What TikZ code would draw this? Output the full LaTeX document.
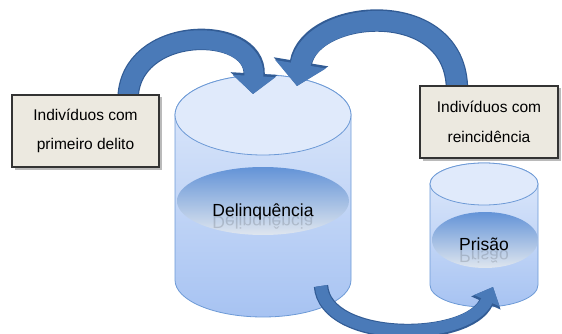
\documentclass[tikz,border=0pt]{standalone}
\usepackage{fontspec}
\setmainfont{Liberation Sans}
\usetikzlibrary{arrows.meta,shadows,shapes.geometric}

\definecolor{arrowblue}{HTML}{4A7AB8}
\definecolor{arrowedge}{HTML}{325C95}
\definecolor{cylline}{HTML}{6D9AD6}
\definecolor{cyltop}{HTML}{E0EAFB}
\definecolor{cylbottom}{HTML}{A7C3F2}
\definecolor{lenstop}{HTML}{6393D7}
\definecolor{lensbottom}{HTML}{DFE6EF}
\definecolor{boxfill}{HTML}{ECE9E0}

% thick bent arrow: shaft, head width, head length, then the four bezier points
\def\blockarrow#1#2#3(#4)(#5)(#6)(#7){%
  \pgfmathsetmacro\edgew{#1+2.4}\pgfmathsetmacro\edgehw{#2+4}\pgfmathsetmacro\edgehl{#3+2.5}%
  \draw[line width=\edgew pt, color=arrowedge, -{Triangle[width=\edgehw pt, length=\edgehl pt]}] (#4) .. controls (#5) and (#6) .. (#7);
  \draw[line width=#1pt, color=arrowblue, -{Triangle[width=#2pt, length=#3pt]}] (#4) .. controls (#5) and (#6) .. (#7);}

\begin{document}
\begin{tikzpicture}[x=1pt, y=1pt,
    lens/.style={ellipse, inner sep=0pt, top color=lenstop, bottom color=lensbottom},
    caixa/.style={draw=black!80, line width=1.1pt, fill=boxfill, align=center,
      inner sep=0pt, minimum height=72pt,
      drop shadow={shadow xshift=2.5pt, shadow yshift=-2.5pt, opacity=0.45, fill=black!60},
      font=\fontsize{15.5}{29.5}\selectfont},
    rotulo/.style={anchor=base, font=\fontsize{17.5}{20}\selectfont}]
  \useasboundingbox (0,0) rectangle (562,-334);

  %% big cylinder
  \draw[top color=cyltop, bottom color=cylbottom, draw=cylline, line width=0.8pt]
    (175,-115) -- (175,-280) arc[start angle=180, end angle=360, x radius=88, y radius=37]
    -- (351,-115) arc[start angle=0, end angle=180, x radius=88, y radius=40] -- cycle;
  \draw[fill=cyltop, draw=cylline, line width=0.8pt] (263,-115) ellipse[x radius=88, y radius=40];
  \node[lens, minimum width=172pt, minimum height=68pt] (delinq) at (263,-201) {};
  \node[rotulo] (delinqtext) at (263,-216) {Delinquência};
  \node[rotulo, opacity=0.14] at (delinqtext.base) {\scalebox{1}[-1]{Delinquência}};

  %% small cylinder
  \draw[top color=cyltop, bottom color=cylbottom, draw=cylline, line width=0.8pt]
    (430,-184) -- (430,-285) arc[start angle=180, end angle=360, x radius=54, y radius=22]
    -- (538,-184) arc[start angle=0, end angle=180, x radius=54, y radius=21] -- cycle;
  \draw[fill=cyltop, draw=cylline, line width=0.8pt] (484,-184) ellipse[x radius=54, y radius=21];
  \node[lens, minimum width=106pt, minimum height=56pt] (prisao) at (485,-240) {};
  \node[rotulo] (prisaotext) at (484,-250) {Prisão};
  \node[rotulo, opacity=0.14] at (prisaotext.base) {\scalebox{1}[-1]{Prisão}};

  %% arrows
  \coordinate (in1) at (253,-94);
  \coordinate (in2) at (297,-86);
  \coordinate (out3) at (321,-286);
  \coordinate (in3) at (493,-287);
  \blockarrow{19}{42}{18}(128,-100)(128,-24)(257,-24)(in1)
  \blockarrow{20}{50}{22}(457,-90)(457,4)(310,-8)(in2)
  \blockarrow{12}{27}{15}(out3)(325,-343)(468,-343)(in3)

  %% boxes
  \node[caixa, minimum width=147pt] (primeiro) at (85.5,-131) {Indivíduos com\\primeiro delito};
  \node[caixa, minimum width=138pt] (reincid) at (489,-122) {Indivíduos com\\reincidência};
\end{tikzpicture}
\end{document}
